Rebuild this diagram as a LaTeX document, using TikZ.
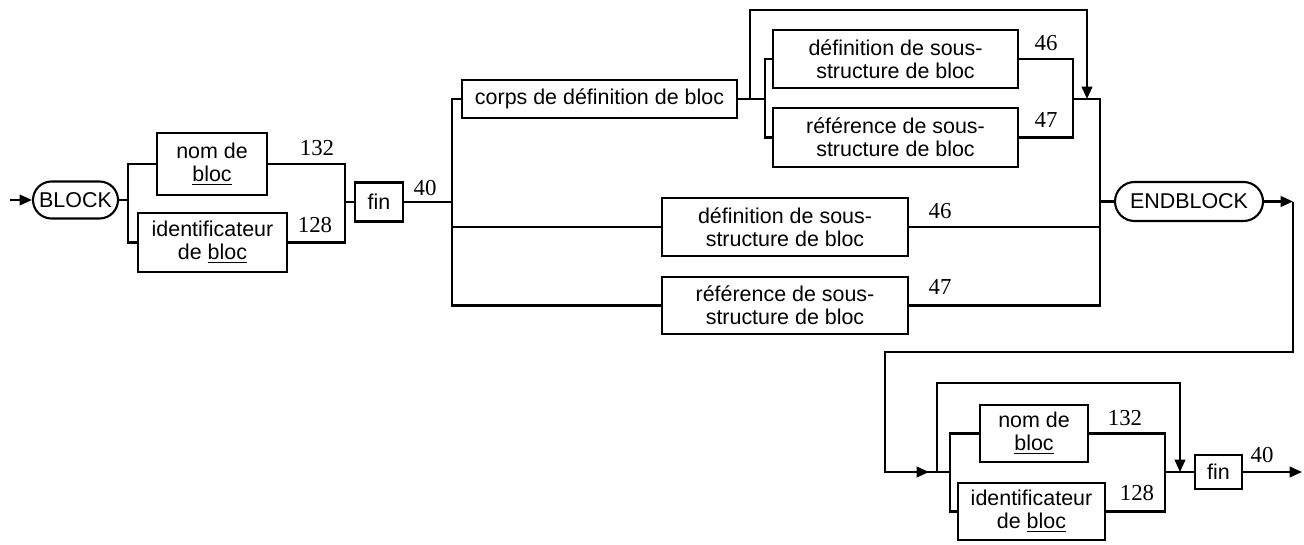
\documentclass[tikz,border=0pt]{standalone}
\usepackage{fontspec}
\setmainfont{Liberation Sans}
\newfontfamily\numfont{Liberation Serif}
\usetikzlibrary{shapes.misc,arrows.meta}

\tikzset{
  sz/.style 2 args={minimum width=#1*0.02cm, minimum height=#2*0.02cm},
  box/.style={draw, line width=1.2pt, inner sep=0pt, align=center,
    font=\fontsize{12.2}{13}\selectfont},
  term/.style={draw, rounded rectangle, line width=1.2pt, inner sep=0pt,
    font=\fontsize{12.2}{13}\selectfont},
  num/.style={inner sep=0pt, font=\numfont\fontsize{13}{13}\selectfont},
  line/.style={line width=1.2pt},
  arr/.style={line width=1.2pt, -{Triangle[length=7pt,width=6pt]}}
}

\begin{document}
\begin{tikzpicture}[x=0.02cm, y=-0.02cm]
    \useasboundingbox (0,0) rectangle (1304,544);
    % Draw the boxes
    \node[term, sz={85}{37}] (block) at (75.5,200) {BLOCK};
    \node[box, sz={110}{62}] (nom1) at (212,164) {nom de\\\underline{bloc}};
    \node[box, sz={149}{59}] (ident1) at (212.5,242.5) {identificateur\\de \underline{bloc}};
    \node[box, sz={48}{39}] (fin1) at (379,202) {fin};
    \node[box, sz={275}{38}] (corps) at (599.5,99) {corps de définition de bloc};
    \node[box, sz={245}{58}] (defA) at (895.5,59) {définition de sous-\\structure de bloc};
    \node[box, sz={245}{59}] (refA) at (895.5,137.5) {référence de sous-\\structure de bloc};
    \node[box, sz={246}{58}] (defB) at (785,227) {définition de sous-\\structure de bloc};
    \node[box, sz={246}{57}] (refB) at (785,305.5) {référence de sous-\\structure de bloc};
    \node[term, sz={148}{39}] (endblock) at (1189,201.5) {ENDBLOCK};
    \node[box, sz={108}{57}] (nom2) at (1034,433.5) {nom de\\\underline{bloc}};
    \node[box, sz={147}{57}] (ident2) at (1031.5,511.5) {identificateur\\de \underline{bloc}};
    \node[box, sz={47}{34}] (fin2) at (1218.5,472) {fin};
    % Junction points
    \coordinate (in) at (10,200);
    \coordinate (s1) at (128,200);
    \coordinate (m1) at (345,202);
    \coordinate (s2) at (452,202);
    \coordinate (s3) at (750,99);
    \coordinate (s4) at (765,99);
    \coordinate (t1) at (1087,10);
    \coordinate (j1) at (1087,99);
    \coordinate (m3) at (1073,99);
    \coordinate (m4) at (1100,201.5);
    \coordinate (out) at (1293,201.5);
    \coordinate (turn) at (885,352);
    \coordinate (a2) at (929,472);
    \coordinate (s6) at (937,472);
    \coordinate (s7) at (950,472);
    \coordinate (t2) at (1180,383);
    \coordinate (j2) at (1180,472);
    \coordinate (m7) at (1165,472);
    \coordinate (end) at (1302,472);
    % First line
    \draw[arr] (in) -- (block.west);
    \draw[line] (block.east) -- (s1);
    \draw[line] (s1) |- (nom1.west);
    \draw[line] (s1) |- (ident1.west);
    \draw[line] (nom1.east) -| (m1);
    \draw[line] (ident1.east) -| (m1);
    \draw[line] (m1) -- (fin1.west);
    \draw[line] (fin1.east) -- (s2);
    \draw[line] (s2) |- (corps.west);
    \draw[line] (s2) |- (defB.west);
    \draw[line] (s2) |- (refB.west);
    \draw[line] (corps.east) -- (s4);
    \draw[arr] (s3) |- (t1) -- (j1);
    \draw[line] (s4) |- (defA.west);
    \draw[line] (s4) |- (refA.west);
    \draw[line] (defA.east) -| (m3);
    \draw[line] (refA.east) -| (m3);
    \draw[line] (m3) -| (m4);
    \draw[line] (defB.east) -| (m4);
    \draw[line] (refB.east) -| (m4);
    \draw[line] (m4) -- (endblock.west);
    \draw[arr] (endblock.east) -- (out);
    % Second line
    \draw[line] (out) |- (turn) |- (s7);
    \draw[arr] (turn) |- (a2);
    \draw[arr] (s6) |- (t2) -- (j2);
    \draw[line] (s7) |- (nom2.west);
    \draw[line] (s7) |- (ident2.west);
    \draw[line] (nom2.east) -| (m7);
    \draw[line] (ident2.east) -| (m7);
    \draw[line] (m7) -- (fin2.west);
    \draw[arr] (fin2.east) -- (end);
    % Rule numbers
    \foreach \n/\x/\y/\t in {r1/317/148/132, r2/315/225/128, r3/425/188/40,
        r4/1046/43/46, r5/1046/120/47, r6/940/211/46, r7/940/287/47,
        r8/1125/418/132, r9/1137/493/128, r10/1262/455/40} {
      \node[num] (\n) at (\x,\y) {\t};
    }
\end{tikzpicture}
\end{document}
